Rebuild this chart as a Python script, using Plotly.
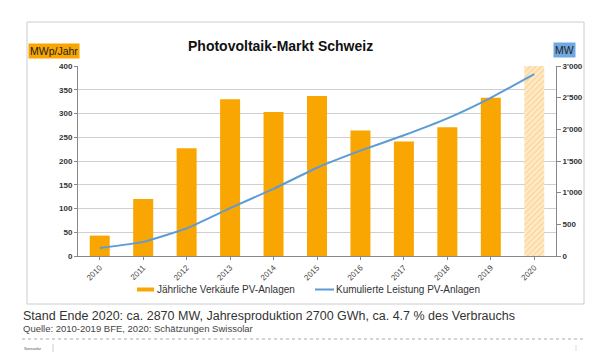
import plotly.graph_objects as go

years = ["2010", "2011", "2012", "2013", "2014", "2015", "2016", "2017", "2018", "2019"]
annual_sales = [43, 120, 227, 330, 303, 337, 264, 241, 271, 333]
estimate_year = ["2020"]
estimate_bar = [400]
all_years = years + estimate_year
cumulative = [125, 223, 437, 756, 1061, 1394, 1664, 1906, 2173, 2498, 2870]

left_ticks = [0, 50, 100, 150, 200, 250, 300, 350, 400]
right_ticks = [0, 500, 1000, 1500, 2000, 2500, 3000]
right_tick_labels = ["0", "500", "1'000", "1'500", "2'000", "2'500", "3'000"]

bar_name = "Jährliche Verkäufe PV-Anlagen"
line_name = "Kumulierte Leistung PV-Anlagen"

ORANGE = "#F9A602"
BLUE = "#5C9BD6"
FONT = "Liberation Sans, Arial, sans-serif"

# page body has an 8px default margin; compensate so the plot lands where intended
OFF = 8
PL, PT, PW, PH = 78 - OFF, 66 - OFF, 478, 190


def px(x):
    return (x - 78) / PW


def py(y):
    return (256 - y) / PH


fig = go.Figure()
fig.add_trace(go.Bar(
    x=years, y=annual_sales, name=bar_name, showlegend=False,
    marker=dict(color=ORANGE, line=dict(width=0)), width=0.46,
))
fig.add_trace(go.Bar(
    x=estimate_year, y=estimate_bar, showlegend=False,
    marker=dict(color="#FFE7C2", line=dict(width=0),
                pattern=dict(shape="/", fgcolor="#F8C46F", bgcolor="#FFEBCB", size=4, solidity=0.45)),
    width=0.46,
))
fig.add_trace(go.Scatter(
    x=all_years, y=cumulative, yaxis="y2", mode="lines",
    name=line_name, showlegend=False,
    line=dict(color=BLUE, width=2, shape="spline", smoothing=0.4),
))

fig.update_layout(
    width=600, height=360,
    margin=dict(l=PL, r=600 - PL - PW, t=PT, b=360 - PT - PH, autoexpand=False),
    paper_bgcolor="white", plot_bgcolor="white",
    barmode="overlay",
    font=dict(family=FONT, color="#333333"),
    xaxis=dict(
        type="category", categoryorder="array", categoryarray=all_years,
        tickangle=-45, tickfont=dict(size=8, color="#444444"),
        showline=True, linecolor="#888888", linewidth=1,
        ticks="outside", ticklen=3, tickcolor="#888888",
        showgrid=False, range=[-0.5, 10.5], automargin=False,
    ),
    yaxis=dict(
        range=[0, 400], tickvals=left_ticks,
        tickfont=dict(size=8, color="#333333", weight="bold"),
        showgrid=True, gridcolor="#CFCFCF", gridwidth=1,
        showline=True, linecolor="#888888", linewidth=1,
        ticks="outside", ticklen=3, tickcolor="#888888",
        zeroline=False, automargin=False,
    ),
    yaxis2=dict(
        range=[0, 3000], tickvals=right_ticks, ticktext=right_tick_labels,
        overlaying="y", side="right",
        tickfont=dict(size=8, color="#333333", weight="bold"),
        showgrid=False, zeroline=False,
        showline=True, linecolor="#888888", linewidth=1,
        ticks="outside", ticklen=4, tickcolor="#888888", automargin=False,
    ),
    showlegend=False,
)

# frame around chart
fig.add_shape(type="rect", xref="paper", yref="paper",
              x0=px(27), x1=px(584), y0=py(304), y1=py(22),
              line=dict(color="#CCCCCC", width=1), fillcolor="rgba(0,0,0,0)", layer="below")

# legend keys
fig.add_shape(type="rect", xref="paper", yref="paper",
              x0=px(137), x1=px(154), y0=py(291.5), y1=py(287.5),
              line=dict(width=0), fillcolor=ORANGE)
fig.add_shape(type="line", xref="paper", yref="paper",
              x0=px(315), x1=px(334), y0=py(289.5), y1=py(289.5),
              line=dict(color=BLUE, width=2))

# dotted separator and footer marks
fig.add_shape(type="line", xref="paper", yref="paper",
              x0=px(22), x1=px(586), y0=py(339), y1=py(339),
              line=dict(color="#AAAAAA", width=1, dash="dot"))
fig.add_shape(type="line", xref="paper", yref="paper",
              x0=px(53), x1=px(53), y0=py(344), y1=py(352),
              line=dict(color="#CCCCCC", width=1))
fig.add_shape(type="line", xref="paper", yref="paper",
              x0=px(576), x1=px(576), y0=py(345), y1=py(351),
              line=dict(color="#DDDDDD", width=1))

ann = [
    dict(text="<b>Photovoltaik-Markt Schweiz</b>", x=px(280), y=py(46),
         font=dict(size=14, color="#111111"), xanchor="center", yanchor="middle"),
    dict(text="MWp/Jahr", x=px(28), y=py(51), xanchor="left", yanchor="middle",
         font=dict(size=10.5, color="#222222"), bgcolor=ORANGE, borderpad=1),
    dict(text="MW", x=px(553), y=py(50), xanchor="left", yanchor="middle",
         font=dict(size=10.5, color="#222222"), bgcolor="#6FA9E0", borderpad=1),
    dict(text=bar_name, x=px(155), y=py(289.5), xanchor="left", yanchor="middle",
         font=dict(size=10, color="#333333")),
    dict(text=line_name, x=px(334), y=py(289.5), xanchor="left", yanchor="middle",
         font=dict(size=10, color="#333333")),
    dict(text="Stand Ende 2020: ca. 2870 MW, Jahresproduktion 2700 GWh, ca. 4.7 % des Verbrauchs",
         x=px(21), y=py(316), xanchor="left", yanchor="middle",
         font=dict(size=12.5, color="#333333")),
    dict(text="Quelle: 2010-2019 BFE, 2020: Schätzungen Swissolar",
         x=px(21), y=py(328), xanchor="left", yanchor="middle",
         font=dict(size=9.5, color="#444444")),
    dict(text="Swissolar", x=px(22), y=py(348), xanchor="left", yanchor="middle",
         font=dict(size=4, color="#555555")),
]
for a in ann:
    a.update(xref="paper", yref="paper", showarrow=False)
    fig.add_annotation(**a)

fig.write_html("out.html")
